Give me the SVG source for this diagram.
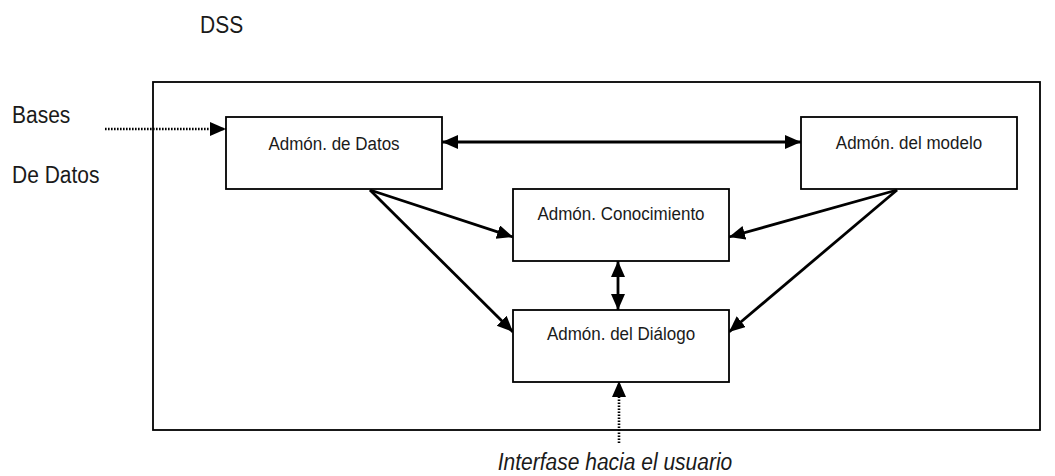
<svg xmlns="http://www.w3.org/2000/svg" width="1055" height="476" viewBox="0 0 1055 476">
  <style>
    .box { fill: #fff; stroke: #000; stroke-width: 1.8; }
    .frame { fill: none; stroke: #000; stroke-width: 1.8; }
    .lbl { font-family: "Liberation Sans", Arial, sans-serif; font-size: 17px; fill: #1a1a1a; text-anchor: middle; }
    .big { font-family: "Liberation Sans", Arial, sans-serif; font-size: 21px; fill: #1a1a1a; }
    .arrow { fill: none; stroke: #000; stroke-width: 2.8; }
    .dots { fill: none; stroke: #000; stroke-width: 2.6; stroke-dasharray: 1.6 1.4; }
  </style>
  <defs>
    <marker id="head" markerUnits="userSpaceOnUse" markerWidth="17" markerHeight="15" refX="16" refY="7" orient="auto-start-reverse">
      <path d="M0,0 L16,7 L0,14 Z" fill="#000"/>
    </marker>
  </defs>

  <rect width="1055" height="476" fill="#fff"/>

  <!-- labels outside the frame, slightly stretched vertically -->
  <text class="big" transform="translate(200,33) scale(1,1.12)">DSS</text>
  <text class="big" transform="translate(12,123) scale(1,1.12)">Bases</text>
  <text class="big" transform="translate(12,183) scale(1,1.12)">De Datos</text>

  <rect id="dss-frame" class="frame" x="153" y="82" width="887" height="348"/>

  <g id="connectors">
    <line class="dots" x1="105" y1="129" x2="226" y2="129" marker-end="url(#head)"/>
    <line class="arrow" x1="442" y1="142" x2="801" y2="142" marker-start="url(#head)" marker-end="url(#head)"/>
    <line class="arrow" x1="370" y1="190" x2="513" y2="237" marker-end="url(#head)"/>
    <line class="arrow" x1="370" y1="190" x2="513" y2="332" marker-end="url(#head)"/>
    <line class="arrow" x1="897" y1="190" x2="729" y2="237" marker-end="url(#head)"/>
    <line class="arrow" x1="897" y1="190" x2="729" y2="332" marker-end="url(#head)"/>
    <line class="arrow" x1="618" y1="261" x2="618" y2="310" marker-start="url(#head)" marker-end="url(#head)"/>
    <line class="dots" x1="619" y1="443" x2="619" y2="381" marker-end="url(#head)"/>
  </g>

  <g id="datos">
    <rect class="box" x="226" y="117" width="216" height="72"/>
    <text class="lbl" transform="translate(334,150) scale(1,1.12)">Admón. de Datos</text>
  </g>
  <g id="modelo">
    <rect class="box" x="801" y="117" width="216" height="72"/>
    <text class="lbl" transform="translate(909,149) scale(1,1.12)">Admón. del modelo</text>
  </g>
  <g id="conocimiento">
    <rect class="box" x="513" y="189" width="216" height="72"/>
    <text class="lbl" transform="translate(621,220) scale(1,1.12)">Admón. Conocimiento</text>
  </g>
  <g id="dialogo">
    <rect class="box" x="513" y="310" width="216" height="72"/>
    <text class="lbl" transform="translate(621,340) scale(1,1.12)">Admón. del Diálogo</text>
  </g>

  <text class="big" transform="translate(615,470) scale(1,1.12)" text-anchor="middle" font-style="italic">Interfase hacia el usuario</text>
</svg>
